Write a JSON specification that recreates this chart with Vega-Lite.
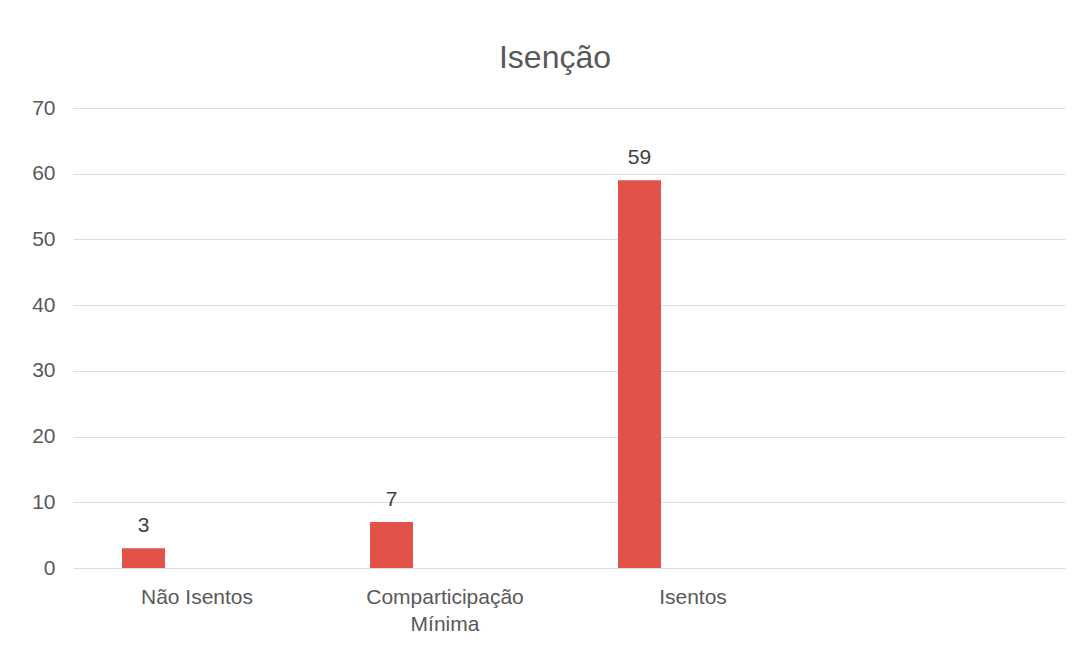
{
  "$schema": "https://vega.github.io/schema/vega-lite/v6.json",
  "width": 992,
  "height": 460,
  "autosize": {"type": "none"},
  "padding": {"left": 73, "top": 108, "right": 18, "bottom": 78},
  "background": "white",
  "title": {
    "text": "Isenção",
    "font": "Liberation Sans",
    "fontSize": 32,
    "fontWeight": "normal",
    "color": "#595959",
    "anchor": "middle",
    "offset": 22,
    "dx": -14
  },
  "data": {
    "values": [
      {"categoria": "Não Isentos", "serie": "s1", "valor": 3},
      {"categoria": "Comparticipação Mínima", "serie": "s1", "valor": 7},
      {"categoria": "Isentos", "serie": "s1", "valor": 59}
    ]
  },
  "encoding": {
    "x": {
      "field": "categoria",
      "type": "nominal",
      "sort": null,
      "scale": {
        "domain": ["Não Isentos", "Comparticipação Mínima", "Isentos", ""],
        "paddingInner": 0,
        "paddingOuter": 0
      },
      "axis": {
        "title": null,
        "labelAngle": 0,
        "labelPadding": 18,
        "ticks": false,
        "domain": false,
        "labelFont": "Liberation Sans",
        "labelFontSize": 21,
        "labelColor": "#595959",
        "labelLimit": 400,
        "labelLineHeight": 27,
        "labelExpr": "datum.value == 'Comparticipação Mínima' ? ['Comparticipação', 'Mínima'] : datum.value"
      }
    },
    "xOffset": {
      "field": "serie",
      "type": "nominal",
      "scale": {"domain": ["s1", "s2", "s3"], "paddingInner": 0.196, "paddingOuter": 0.916}
    },
    "y": {
      "field": "valor",
      "type": "quantitative",
      "scale": {"domain": [0, 70]},
      "axis": {
        "title": null,
        "values": [0, 10, 20, 30, 40, 50, 60, 70],
        "domain": false,
        "ticks": false,
        "labelPadding": 18,
        "labelFont": "Liberation Sans",
        "labelFontSize": 21,
        "labelColor": "#595959",
        "gridColor": "#dedede",
        "gridWidth": 1.2
      }
    }
  },
  "layer": [
    {"mark": {"type": "bar", "color": "#e0524a"}},
    {
      "mark": {
        "type": "text",
        "dy": -12,
        "baseline": "bottom",
        "font": "Liberation Sans",
        "fontSize": 21,
        "color": "#404040"
      },
      "encoding": {"text": {"field": "valor", "type": "quantitative"}}
    }
  ],
  "config": {"view": {"stroke": null}}
}
